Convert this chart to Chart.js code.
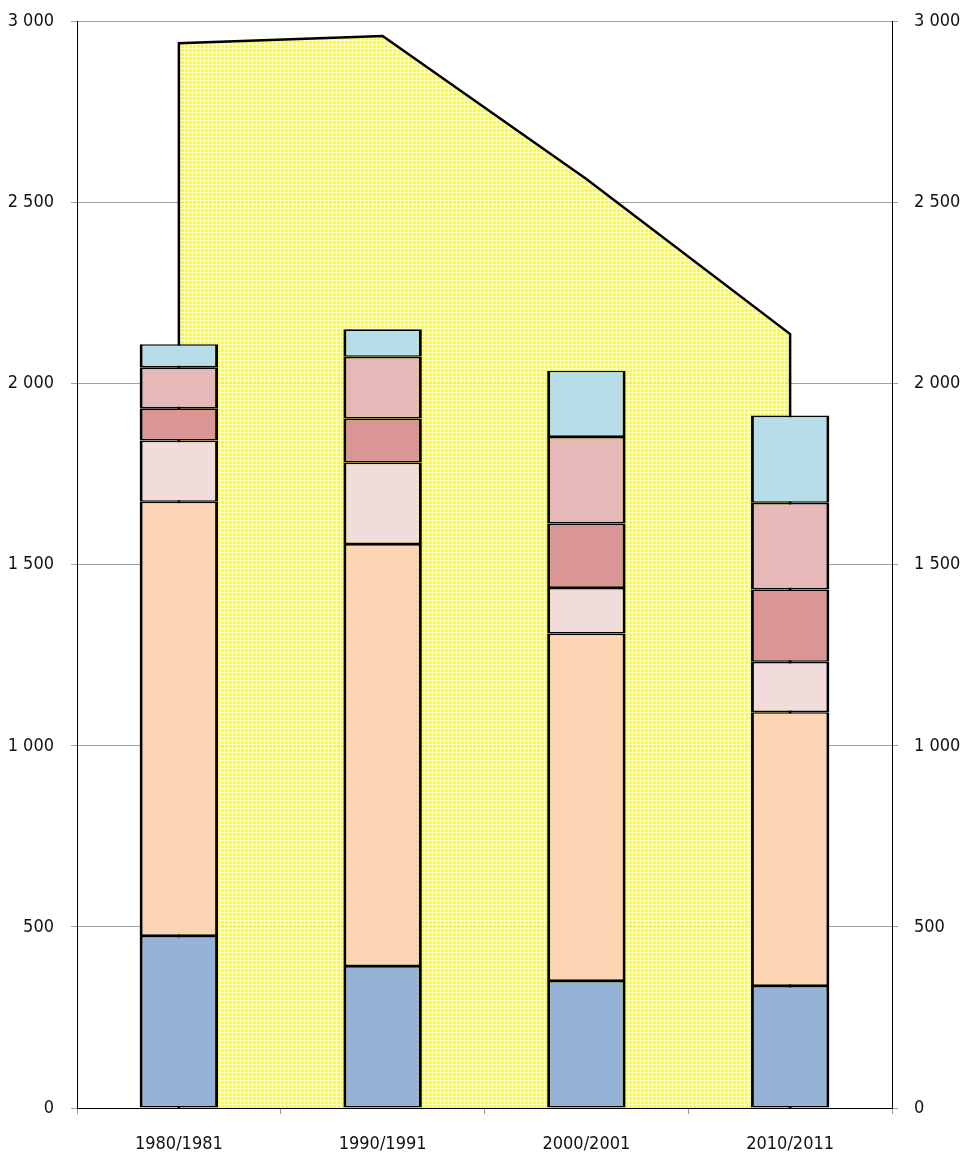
<!DOCTYPE html>
<html>
<head>
<meta charset="utf-8">
<script src="https://cdn.jsdelivr.net/npm/chart.js@4/dist/chart.umd.min.js"></script>
<style>
  html, body { margin:0; padding:0; background:#fff; }
  #wrap { width:961px; height:1155px; position:relative; }
</style>
</head>
<body>
<div id="wrap"><canvas id="chart"></canvas></div>
<script>
/* ===============================
  data
================================ */
const labels = ['1980/1981', '1990/1991', '2000/2001', '2010/2011'];

// stacked segments, bottom to top
const seg1 = [475, 392, 351, 337];
const seg2 = [1199, 1165, 959, 756];
const seg3 = [169, 225, 126, 139];
const seg4 = [89, 122, 178, 200];
const seg5 = [113, 170, 239, 239];
const seg6 = [64, 76, 183, 241];

// background area
const areaValues = [2940, 2960, 2565, 2137];

const yTicks = [0, 500, 1000, 1500, 2000, 2500, 3000];

/* ===============================
  pattern for the area
================================ */
function makePattern() {
    const c = document.createElement('canvas');
    c.width = 4; c.height = 4;
    const g = c.getContext('2d');
    g.fillStyle = 'rgba(255,255,0,0.9)';
    g.fillRect(0, 0, 4, 4);
    g.fillStyle = 'rgba(255,255,255,0.75)';
    g.fillRect(0, 0, 4, 1);
    g.fillRect(0, 1, 1, 3);
    return g.createPattern(c, 'repeat');
}

// area outline points: closed down to zero at both ends
const areaPoints = [{x:0, y:0}];
areaValues.forEach((v, i) => areaPoints.push({x:i, y:v}));
areaPoints.push({x:areaValues.length - 1, y:0});

const fmt = v => String(v).replace(/\B(?=(\d{3})+(?!\d))/g, ' ');
const font = {family:"'DejaVu Sans Condensed','Liberation Sans Narrow',sans-serif", size:18};

function bar(data, color) {
    return {
        type:'bar',
        data:data,
        backgroundColor:color,
        borderColor:'#000',
        borderWidth:{left:3, right:3, top:1.6, bottom:1.6},
        borderSkipped:false,
        grouped:false,
        order:1,
        xAxisID:'x',
        yAxisID:'y',
        categoryPercentage:1,
        barPercentage:0.385
    };
}

// fixed axis width, no label overhang padding
function fitY(w) {
    return s => { s.width = w; s.paddingTop = 0; s.paddingBottom = 0; };
}

new Chart(document.getElementById('chart'), {
    data:{
        labels:labels,
        datasets:[
            bar(seg1, '#95b3d7'),
            bar(seg2, '#fcd5b5'),
            bar(seg3, '#f2dcdb'),
            bar(seg4, '#d99694'),
            bar(seg5, '#e6b9b8'),
            bar(seg6, '#b7dee8'),
            {
                type:'line',
                data:areaPoints,
                xAxisID:'xl',
                yAxisID:'yl',
                order:10,
                fill:'origin',
                backgroundColor:makePattern(),
                borderColor:'#000',
                borderWidth:2.5,
                pointRadius:0,
                tension:0
            }
        ]
    },
    options:{
        responsive:true,
        maintainAspectRatio:false,
        animation:false,
        layout:{padding:{top:21.5, left:0, right:0, bottom:0}},
        plugins:{legend:{display:false}, tooltip:{enabled:false}},
        scales:{
            x:{
                type:'category',
                stacked:true,
                offset:true,
                grid:{offset:true, drawOnChartArea:false, tickLength:6, color:'#999'},
                border:{color:'#000', width:1},
                ticks:{font:font, color:'#111', padding:20},
                afterFit:s => { s.height = 47; }
            },
            xl:{
                type:'linear',
                display:false,
                min:-0.5,
                max:labels.length - 0.5
            },
            y:{
                stacked:true,
                min:0,
                max:3000,
                afterBuildTicks:s => { s.ticks = yTicks.map(v => ({value:v})); },
                grid:{color:'#a0a0a0', lineWidth:1, tickLength:6},
                border:{color:'#000', width:1},
                ticks:{font:font, color:'#111', padding:17, callback:v => fmt(v)},
                afterFit:fitY(77)
            },
            yl:{
                display:false,
                min:0,
                max:3000
            },
            y2:{
                position:'right',
                min:0,
                max:3000,
                afterBuildTicks:s => { s.ticks = yTicks.map(v => ({value:v})); },
                grid:{drawOnChartArea:false, color:'#a0a0a0', tickLength:6},
                border:{color:'#000', width:1},
                ticks:{font:font, color:'#111', padding:16, callback:v => fmt(v)},
                afterFit:fitY(69)
            }
        }
    }
});
</script>
</body>
</html>
